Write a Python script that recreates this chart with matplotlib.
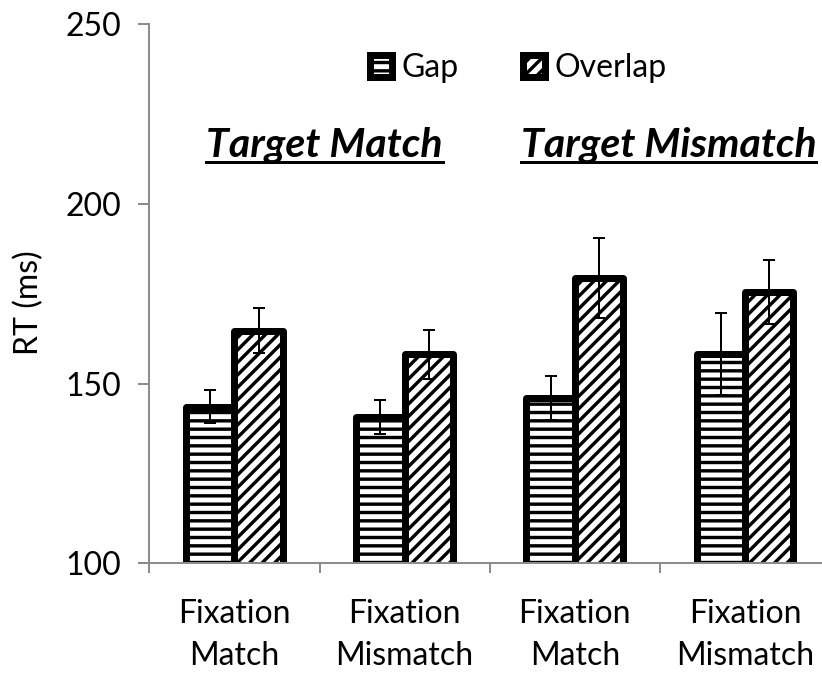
import numpy as np
import matplotlib
matplotlib.use('Agg')
import matplotlib.pyplot as plt
from matplotlib.patches import Patch
from matplotlib.lines import Line2D

DPI = 150


def px(v):
    # pixels -> points at the chosen dpi
    return v * 72.0 / DPI


# datos (RT en ms)
categories  = ['Fixation\nMatch', 'Fixation\nMismatch', 'Fixation\nMatch', 'Fixation\nMismatch']
gap         = [143.6, 140.7, 145.9, 158.2]
gap_err     = [4.7, 4.6, 6.1, 11.5]
overlap     = [164.7, 158.1, 179.4, 175.4]
overlap_err = [6.3, 6.9, 11.2, 8.9]
series      = ['Gap', 'Overlap']
group_names = ['Target Match', 'Target Mismatch']
group_pos   = [0.53, 2.55]
yticks      = [100, 150, 200, 250]

plt.rcParams['font.family'] = ['Lato', 'DejaVu Sans']
plt.rcParams['hatch.linewidth'] = px(3.4)
plt.rcParams['hatch.color'] = 'black'

FS = px(32)
GRAY = '#8c8c8c'

fig = plt.figure(figsize=(822 / DPI, 675 / DPI), dpi=DPI)
ax = fig.add_axes([149.3 / 822, 1 - 563.3 / 675, 680.8 / 822, (563.3 - 24) / 675])

x = np.arange(len(categories))
w = 0.284

ax.bar(x - w / 2, gap, w, facecolor='white', edgecolor='black', linewidth=px(7),
       hatch='---', joinstyle='round', zorder=2)
ax.bar(x + w / 2, overlap, w, facecolor='white', edgecolor='black', linewidth=px(7),
       hatch='////', joinstyle='round', zorder=2)

ax.errorbar(x - w / 2, gap, yerr=gap_err, fmt='none', ecolor='black',
            elinewidth=px(2), capsize=px(6), capthick=px(2), zorder=3)
ax.errorbar(x + w / 2, overlap, yerr=overlap_err, fmt='none', ecolor='black',
            elinewidth=px(2), capsize=px(6), capthick=px(2), zorder=3)

ax.set_xlim(-0.5, len(categories) - 0.5)
ax.set_ylim(100, 250)

# ejes
for s in ['top', 'right']:
    ax.spines[s].set_visible(False)
for s in ['left', 'bottom']:
    ax.spines[s].set_color(GRAY)
    ax.spines[s].set_linewidth(px(2))

ax.set_yticks(yticks)
ax.set_yticklabels([str(v) for v in yticks], fontsize=FS)
ax.tick_params(axis='y', length=px(11), width=px(2), color=GRAY, pad=px(17))

ax.set_xticks(x)
ax.set_xticklabels(categories, fontsize=FS, linespacing=1.48)
ax.tick_params(axis='x', which='major', length=0, pad=px(36))
ax.set_xticks(np.arange(len(categories) + 1) - 0.5, minor=True)
ax.tick_params(axis='x', which='minor', length=px(10), width=px(2), color=GRAY)

fig.text(29 / 822, 1 - 303 / 675, 'RT (ms)', rotation=90, ha='center', va='center',
         fontsize=FS)

# titulos de grupo subrayados
titles = []
for name, gx in zip(group_names, group_pos):
    t = ax.text(gx, 213.1, name, ha='center', va='baseline', fontsize=px(41),
                fontweight='bold', fontstyle='italic', zorder=4)
    titles.append(t)

fig.canvas.draw()
inv = ax.transData.inverted()
for t in titles:
    bb = t.get_window_extent()
    x0 = inv.transform((bb.x0, bb.y0))[0]
    x1 = inv.transform((bb.x1, bb.y0))[0]
    yl = 213.1 - 5 / 3.593
    ax.add_line(Line2D([x0, x1], [yl, yl], color='black', linewidth=px(3)))

# leyenda
handles = [Patch(facecolor='white', edgecolor='black', linewidth=px(7), hatch='---',
                 joinstyle='round', label=series[0]),
           Patch(facecolor='white', edgecolor='black', linewidth=px(7), hatch='////',
                 joinstyle='round', label=series[1])]
ax.legend(handles=handles, loc='center', bbox_to_anchor=(518 / 822, 1 - 68 / 675),
          bbox_transform=fig.transFigure, ncol=2, frameon=False, fontsize=FS,
          handlelength=0.69, handleheight=0.69, handletextpad=0.3, columnspacing=2.0)

fig.savefig('out.png', dpi=DPI)
